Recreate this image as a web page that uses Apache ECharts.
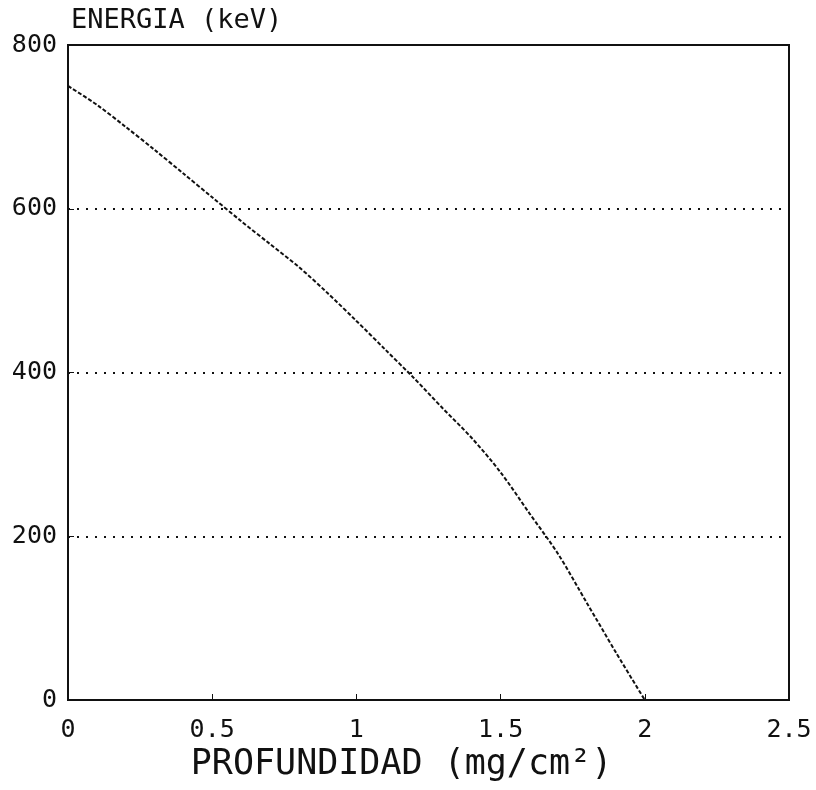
<!DOCTYPE html>
<html>
<head>
<meta charset="utf-8">
<script src="https://cdn.jsdelivr.net/npm/echarts@6/dist/echarts.min.js"></script>
<style>
  html, body { margin: 0; padding: 0; background: #fff; }
  #chart { width: 816px; height: 790px; }
</style>
</head>
<body>
<div id="chart"></div>
<script>
// depth (mg/cm2) and energy (keV)
const profundidad = [0, 0.1, 0.2, 0.3, 0.4, 0.5, 0.6, 0.7, 0.8, 0.9, 1.0,
  1.1, 1.2, 1.3, 1.4, 1.5, 1.6, 1.7, 1.8, 1.9, 2.0]
const energia = [750, 727, 700, 672, 643, 614, 585, 557, 529, 497, 463,
  428, 393, 356, 320, 278, 228, 178, 118, 58, 0]

const xTicks = { min: 0, max: 2.5, interval: 0.5 }
const yTicks = { min: 0, max: 800, interval: 200 }

const font = 'DejaVu Sans Mono'
const ink = '#111'

let myChart = echarts.init(document.getElementById('chart'))
myChart.setOption({
  backgroundColor: '#fff',
  animation: false,
  title: {
    text: 'ENERGIA (keV)',
    left: 66,
    top: 2,
    textStyle: { color: ink, fontFamily: font, fontWeight: 'normal', fontSize: 27 }
  },
  grid: {
    left: 68,
    right: 27,
    top: 45,
    bottom: 90,
    show: true,
    borderColor: ink,
    borderWidth: 2,
    backgroundColor: 'transparent'
  },
  xAxis: {
    type: 'value',
    min: xTicks.min,
    max: xTicks.max,
    interval: xTicks.interval,
    name: 'PROFUNDIDAD (mg/cm²)',
    nameLocation: 'middle',
    nameGap: 46,
    // the scanned title sits a little left of the plot centre
    nameTextStyle: { color: ink, fontFamily: font, fontSize: 35, padding: [0, 54, 0, 0] },
    axisLine: { lineStyle: { color: ink, width: 2 } },
    axisTick: { inside: true, length: 6, lineStyle: { color: ink } },
    axisLabel: { color: ink, fontFamily: font, fontSize: 25, margin: 18 },
    splitLine: { show: false }
  },
  yAxis: {
    type: 'value',
    min: yTicks.min,
    max: yTicks.max,
    interval: yTicks.interval,
    axisLine: { show: true, lineStyle: { color: ink, width: 2 } },
    axisTick: { show: true, inside: true, length: 6, lineStyle: { color: ink } },
    axisLabel: { color: ink, fontFamily: font, fontSize: 25, margin: 11 },
    splitLine: {
      show: true,
      lineStyle: { color: ink, width: 2, type: [2, 7] }
    }
  },
  series: [
    {
      type: 'line',
      data: profundidad.map((x, i) => [x, energia[i]]),
      smooth: 0.3,
      symbol: 'none',
      lineStyle: { color: ink, width: 2, type: [4, 2] }
    }
  ]
})
</script>
</body>
</html>
